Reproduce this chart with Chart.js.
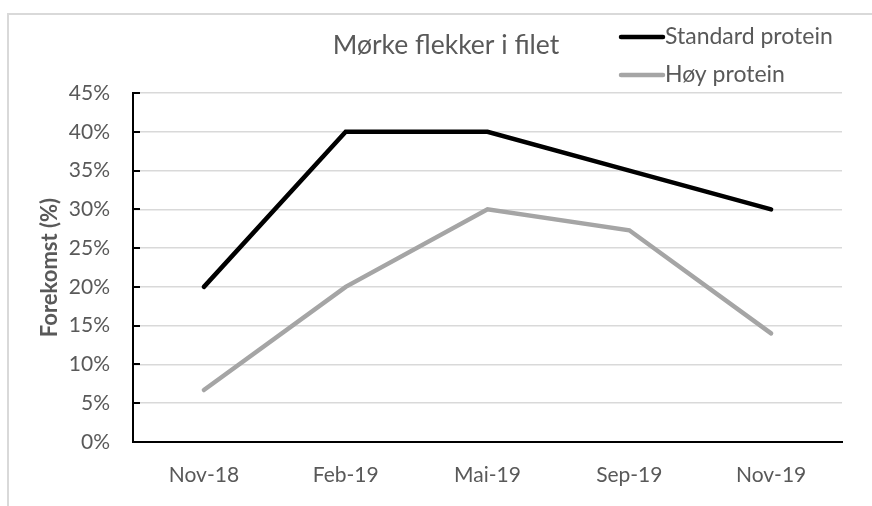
<!DOCTYPE html>
<html>
<head>
<meta charset="utf-8">
<script src="https://cdn.jsdelivr.net/npm/chart.js@4.4.1/dist/chart.umd.min.js"></script>
<style>
  html, body { margin: 0; padding: 0; background: #ffffff; overflow: hidden; }
  #wrap { position: relative; width: 872px; height: 506px; }
  #frame { position: absolute; left: 7px; top: 13px; width: 900px; height: 600px;
           border-left: 2px solid #d9d9d9; border-top: 2px solid #d9d9d9; }
  canvas { position: absolute; left: 0; top: 0; }
</style>
</head>
<body>
<div id="wrap">
  <div id="frame"></div>
  <canvas id="c" width="872" height="506"></canvas>
</div>
<script>
const chartTitle = "Mørke flekker i filet";
const yAxisTitle = "Forekomst (%)";
const categories = ["Nov-18", "Feb-19", "Mai-19", "Sep-19", "Nov-19"];
const standardProtein = [20, 40, 40, 35, 30];
const hoyProtein = [6.7, 20, 30, 27.3, 14];
const seriesNames = ["Standard protein", "Høy protein"];

const textColor = "#595959";
const fontFamily = "Lato, 'Open Sans', sans-serif";

const innerTicks = {
  id: "innerTicks",
  afterDatasetsDraw(chart) {
    const y = chart.scales.y;
    const left = chart.chartArea.left;
    const ctx = chart.ctx;
    ctx.save();
    ctx.strokeStyle = "#000000";
    ctx.lineWidth = 2;
    y.ticks.forEach(t => {
      const py = Math.round(y.getPixelForValue(t.value));
      ctx.beginPath();
      ctx.moveTo(left, py);
      ctx.lineTo(left + 7, py);
      ctx.stroke();
    });
    ctx.restore();
  }
};

const sideLegend = {
  id: "sideLegend",
  afterDraw(chart) {
    const ctx = chart.ctx;
    const x0 = 621, x1 = 663;
    const rows = [37, 75];
    ctx.save();
    chart.data.datasets.forEach((ds, i) => {
      const yy = rows[i];
      ctx.strokeStyle = ds.borderColor;
      ctx.lineWidth = 4.5;
      ctx.lineCap = "round";
      ctx.beginPath();
      ctx.moveTo(x0, yy);
      ctx.lineTo(x1, yy);
      ctx.stroke();
      ctx.fillStyle = textColor;
      ctx.font = "23px " + fontFamily;
      ctx.textBaseline = "middle";
      ctx.textAlign = "left";
      ctx.fillText(ds.label, x1 + 2, yy);
    });
    ctx.restore();
  }
};

new Chart(document.getElementById("c"), {
  type: "line",
  data: {
    labels: categories,
    datasets: [
      { label: seriesNames[0], data: standardProtein, borderColor: "#000000",
        backgroundColor: "#000000", borderWidth: 4.5, pointRadius: 0, tension: 0,
        borderCapStyle: "round", borderJoinStyle: "miter" },
      { label: seriesNames[1], data: hoyProtein, borderColor: "#a5a5a5",
        backgroundColor: "#a5a5a5", borderWidth: 4.5, pointRadius: 0, tension: 0,
        borderCapStyle: "round", borderJoinStyle: "miter" }
    ]
  },
  options: {
    responsive: false,
    animation: false,
    devicePixelRatio: 1,
    layout: { padding: { left: 50, right: 30, top: 0, bottom: 0 } },
    plugins: {
      legend: { display: false },
      tooltip: { enabled: false },
      title: {
        display: true,
        text: chartTitle,
        color: textColor,
        font: { family: fontFamily, size: 26.5, weight: "normal" },
        padding: { top: 29.1, bottom: 32.1 }
      }
    },
    scales: {
      x: {
        offset: true,
        grid: { display: false, drawTicks: false },
        border: { display: true, color: "#000000", width: 2 },
        ticks: { color: textColor, font: { family: fontFamily, size: 21 }, padding: 21,
                  maxRotation: 0, autoSkip: false },
        afterFit(s) { s.height = 64; }
      },
      y: {
        min: 0, max: 45,
        grid: { color: "#d9d9d9", lineWidth: 1.5, drawTicks: false },
        border: { display: true, color: "#000000", width: 2 },
        ticks: { stepSize: 5, color: textColor, font: { family: fontFamily, size: 21 },
                  padding: 23, callback: v => v + "%" },
        title: {
          display: true, text: yAxisTitle, color: textColor,
          font: { family: fontFamily, size: 22, weight: "bold" },
          padding: { top: -13, bottom: 0 }
        },
        afterFit(s) { s.width = 83; }
      }
    }
  },
  plugins: [innerTicks, sideLegend]
});
</script>
</body>
</html>
